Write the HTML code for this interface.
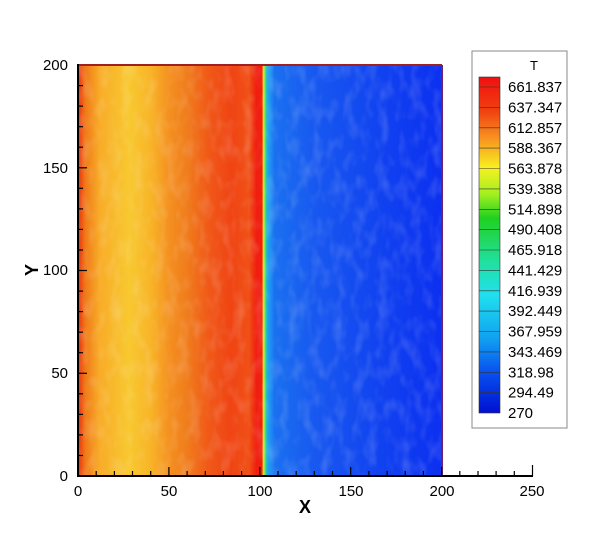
<!DOCTYPE html>
<html><head><style>
body{margin:0;background:#fff;}
svg text{font-family:"Liberation Sans",Arial,sans-serif;}
</style></head><body>
<svg width="603" height="535" viewBox="0 0 603 535" xmlns="http://www.w3.org/2000/svg">
<defs>
<linearGradient id="g" x1="78" x2="442" y1="0" y2="0" gradientUnits="userSpaceOnUse">
<stop offset="0" stop-color="#e83010"/>
<stop offset="0.02" stop-color="#f07a18"/>
<stop offset="0.06" stop-color="#f8ac28"/>
<stop offset="0.14" stop-color="#f8c830"/>
<stop offset="0.20" stop-color="#f8b428"/>
<stop offset="0.25" stop-color="#f49020"/>
<stop offset="0.30" stop-color="#f07c1c"/>
<stop offset="0.36" stop-color="#f05818"/>
<stop offset="0.42" stop-color="#f04414"/>
<stop offset="0.47" stop-color="#f05016"/>
<stop offset="0.49" stop-color="#f01e10"/>
<stop offset="0.505" stop-color="#f02010"/>
<stop offset="0.51" stop-color="#e8f020"/>
<stop offset="0.515" stop-color="#30e080"/>
<stop offset="0.52" stop-color="#20a8f0"/>
<stop offset="0.54" stop-color="#1a70f0"/>
<stop offset="0.65" stop-color="#1858f0"/>
<stop offset="0.85" stop-color="#1040f0"/>
<stop offset="1" stop-color="#0c30f0"/>
</linearGradient>
<filter id="n" x="0" y="0" width="100%" height="100%">
<feTurbulence type="fractalNoise" baseFrequency="0.09 0.05" numOctaves="2" seed="4"/>
<feColorMatrix type="matrix" values="0 0 0 0 1  0 0 0 0 1  0 0 0 0 1  0 0 0 1.4 -0.6"/>
</filter>
<linearGradient id="cb" x1="0" x2="0" y1="0" y2="1">
<stop offset="0" stop-color="#f01010"/>
<stop offset="0.1" stop-color="#f04010"/>
<stop offset="0.18" stop-color="#f89020"/>
<stop offset="0.27" stop-color="#f8f020"/>
<stop offset="0.35" stop-color="#a0f020"/>
<stop offset="0.42" stop-color="#20d020"/>
<stop offset="0.55" stop-color="#20e0a0"/>
<stop offset="0.65" stop-color="#20e0f0"/>
<stop offset="0.78" stop-color="#10a0f0"/>
<stop offset="0.88" stop-color="#0850f0"/>
<stop offset="1" stop-color="#0010d0"/>
</linearGradient>
</defs>
<rect x="78" y="65" width="364" height="411" fill="url(#g)"/>
<rect x="78" y="65" width="364" height="411" filter="url(#n)" opacity="0.25"/>
<line x1="78" y1="65" x2="442" y2="65" stroke="#a02020" stroke-width="2"/>
<line x1="442" y1="65" x2="442" y2="476" stroke="#702070" stroke-width="2"/>
<g stroke="#000" stroke-width="2">
<line x1="78" y1="64" x2="78" y2="477"/>
<line x1="77" y1="476" x2="533" y2="476"/>
</g>
<g stroke="#000" stroke-width="1.2">
<line x1="78" y1="476" x2="78" y2="467"/><line x1="96.2" y1="476" x2="96.2" y2="471"/><line x1="114.4" y1="476" x2="114.4" y2="471"/><line x1="132.5" y1="476" x2="132.5" y2="471"/><line x1="150.7" y1="476" x2="150.7" y2="471"/>
<line x1="168.9" y1="476" x2="168.9" y2="467"/><line x1="187.1" y1="476" x2="187.1" y2="471"/><line x1="205.3" y1="476" x2="205.3" y2="471"/><line x1="223.4" y1="476" x2="223.4" y2="471"/><line x1="241.6" y1="476" x2="241.6" y2="471"/>
<line x1="259.8" y1="476" x2="259.8" y2="467"/><line x1="278" y1="476" x2="278" y2="471"/><line x1="296.2" y1="476" x2="296.2" y2="471"/><line x1="314.3" y1="476" x2="314.3" y2="471"/><line x1="332.5" y1="476" x2="332.5" y2="471"/>
<line x1="350.7" y1="476" x2="350.7" y2="467"/><line x1="368.9" y1="476" x2="368.9" y2="471"/><line x1="387.1" y1="476" x2="387.1" y2="471"/><line x1="405.2" y1="476" x2="405.2" y2="471"/><line x1="423.4" y1="476" x2="423.4" y2="471"/>
<line x1="441.6" y1="476" x2="441.6" y2="467"/><line x1="459.8" y1="476" x2="459.8" y2="471"/><line x1="478" y1="476" x2="478" y2="471"/><line x1="496.1" y1="476" x2="496.1" y2="471"/><line x1="514.3" y1="476" x2="514.3" y2="471"/>
<line x1="532.5" y1="476" x2="532.5" y2="465"/>
<line x1="78" y1="455.5" x2="83" y2="455.5"/><line x1="78" y1="434.9" x2="83" y2="434.9"/><line x1="78" y1="414.4" x2="83" y2="414.4"/><line x1="78" y1="393.8" x2="83" y2="393.8"/>
<line x1="78" y1="373.3" x2="87" y2="373.3"/><line x1="78" y1="352.7" x2="83" y2="352.7"/><line x1="78" y1="332.2" x2="83" y2="332.2"/><line x1="78" y1="311.6" x2="83" y2="311.6"/><line x1="78" y1="291.1" x2="83" y2="291.1"/>
<line x1="78" y1="270.5" x2="87" y2="270.5"/><line x1="78" y1="250" x2="83" y2="250"/><line x1="78" y1="229.4" x2="83" y2="229.4"/><line x1="78" y1="208.9" x2="83" y2="208.9"/><line x1="78" y1="188.3" x2="83" y2="188.3"/>
<line x1="78" y1="167.8" x2="87" y2="167.8"/><line x1="78" y1="147.2" x2="83" y2="147.2"/><line x1="78" y1="126.7" x2="83" y2="126.7"/><line x1="78" y1="106.1" x2="83" y2="106.1"/><line x1="78" y1="85.6" x2="83" y2="85.6"/>
</g>
<g font-size="15" fill="#000" text-anchor="middle">
<text x="78" y="496">0</text><text x="169" y="496">50</text><text x="260" y="496">100</text>
<text x="351" y="496">150</text><text x="442" y="496">200</text><text x="532" y="496">250</text>
</g>
<g font-size="15" fill="#000" text-anchor="end">
<text x="68" y="481">0</text><text x="68" y="378">50</text><text x="68" y="275">100</text>
<text x="68" y="173">150</text><text x="68" y="70">200</text>
</g>
<text x="305" y="513" font-size="18" font-weight="bold" text-anchor="middle">X</text>
<text x="0" y="0" font-size="18" font-weight="bold" text-anchor="middle" transform="translate(38,270) rotate(-90)">Y</text>
<rect x="472" y="51" width="95" height="377" fill="#fff" stroke="#888" stroke-width="1"/>
<text x="534" y="70" font-size="13" text-anchor="middle">T</text>
<rect x="479" y="77" width="21" height="336" fill="url(#cb)" stroke="#333" stroke-width="0.6"/>
<g stroke="#333" stroke-width="0.6">
<line x1="479" x2="500" y1="87" y2="87"/><line x1="479" x2="500" y1="107.4" y2="107.4"/><line x1="479" x2="500" y1="127.8" y2="127.8"/><line x1="479" x2="500" y1="148.1" y2="148.1"/>
<line x1="479" x2="500" y1="168.5" y2="168.5"/><line x1="479" x2="500" y1="188.9" y2="188.9"/><line x1="479" x2="500" y1="209.3" y2="209.3"/><line x1="479" x2="500" y1="229.6" y2="229.6"/>
<line x1="479" x2="500" y1="250" y2="250"/><line x1="479" x2="500" y1="270.4" y2="270.4"/><line x1="479" x2="500" y1="290.8" y2="290.8"/><line x1="479" x2="500" y1="311.1" y2="311.1"/>
<line x1="479" x2="500" y1="331.5" y2="331.5"/><line x1="479" x2="500" y1="351.9" y2="351.9"/><line x1="479" x2="500" y1="372.3" y2="372.3"/><line x1="479" x2="500" y1="392.6" y2="392.6"/>
</g>
<g font-size="15" fill="#000">
<text x="508" y="92">661.837</text><text x="508" y="112.4">637.347</text><text x="508" y="132.8">612.857</text><text x="508" y="153.1">588.367</text>
<text x="508" y="173.5">563.878</text><text x="508" y="193.9">539.388</text><text x="508" y="214.3">514.898</text><text x="508" y="234.6">490.408</text>
<text x="508" y="255">465.918</text><text x="508" y="275.4">441.429</text><text x="508" y="295.8">416.939</text><text x="508" y="316.1">392.449</text>
<text x="508" y="336.5">367.959</text><text x="508" y="356.9">343.469</text><text x="508" y="377.3">318.98</text><text x="508" y="397.6">294.49</text>
<text x="508" y="418">270</text>
</g>
</svg>
</body></html>
